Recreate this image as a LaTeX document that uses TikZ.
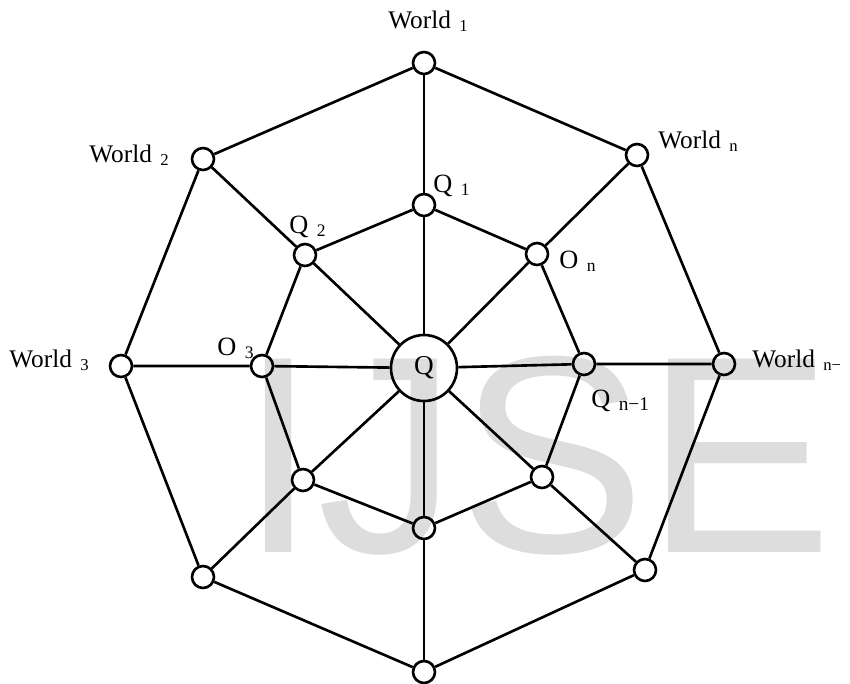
\documentclass[tikz,border=0pt]{standalone}
\usepackage{fontspec}
\setmainfont{Liberation Serif}
\newfontfamily\wmfont{Liberation Sans}
\usetikzlibrary{positioning}
\definecolor{wmgray}{RGB}{221,221,221}
\newcommand{\lblsub}[3][9.5]{#2\hspace{4.8pt}\raisebox{-2pt}{\fontsize{#1}{#1}\selectfont #3}}

\begin{document}
\begin{tikzpicture}[x=0.02cm, y=-0.02cm,
  vtx/.style={circle, draw, line width=1.5pt, minimum size=0.44cm, inner sep=0pt},
  hub/.style={circle, draw, line width=1.5pt, minimum size=1.32cm, inner sep=0pt, font=\fontsize{15.5}{18}\selectfont},
  edge/.style={line width=1.5pt},
  lbl/.style={anchor=base west, inner sep=0pt, font=\fontsize{14.4}{17}\selectfont}
]
  \useasboundingbox (0,0) rectangle (850,684);
  % watermark behind everything
  \node[anchor=base west, inner sep=0pt, text=wmgray, font=\wmfont\fontsize{160}{160}\selectfont] (wm) at (239,552) {IJSE};
  % worlds (outer) and queries (inner)
  \foreach \n/\x/\y in {1/424/63, 2/203/159, 3/121/366, 4/203/577, 5/424/672, 6/645/570, 7/724/364, 8/637/155}
    {\node[vtx] (w\n) at (\x,\y) {};}
  \foreach \n/\x/\y in {1/424/205, 2/305/255, 3/262/366, 4/303/480, 5/424/528, 6/542/477, 7/584/364, 8/537/254}
    {\node[vtx] (q\n) at (\x,\y) {};}
  \node[hub] (c) at (424,368) {Q};
  % rings and spokes
  \draw[edge] (w1) -- (w2) -- (w3) -- (w4) -- (w5) -- (w6) -- (w7) -- (w8) -- (w1);
  \draw[edge] (q1) -- (q2) -- (q3) -- (q4) -- (q5) -- (q6) -- (q7) -- (q8) -- (q1);
  \foreach \n in {1,...,8} {\draw[edge] (w\n) -- (q\n) -- (c);}
  % labels
  \node[lbl] (lw1) at (388,28) {\lblsub{World}{1}};
  \node[lbl] (lw2) at (89,162) {\lblsub{World}{2}};
  \node[lbl] (lw3) at (9,367) {\lblsub{World}{3}};
  \node[lbl] (lw8) at (658,148) {\lblsub{World}{n}};
  \node[lbl] (lw7) at (752,367) {\lblsub{World}{n−}};
  \node[lbl, font=\fontsize{15}{18}\selectfont] (lq1) at (433,192) {\lblsub[10]{Q}{1}};
  \node[lbl, font=\fontsize{15}{18}\selectfont] (lq2) at (289,233) {\lblsub[10]{Q}{2}};
  \node[lbl, font=\fontsize{15}{18}\selectfont] (lq3) at (217,355) {\lblsub[10]{O}{3}};
  \node[lbl, font=\fontsize{15}{18}\selectfont] (lq8) at (559,268) {\lblsub[10]{O}{n}};
  \node[lbl, font=\fontsize{15}{18}\selectfont] (lq7) at (591,407) {\lblsub[11]{Q}{n−1}};
\end{tikzpicture}
\end{document}
